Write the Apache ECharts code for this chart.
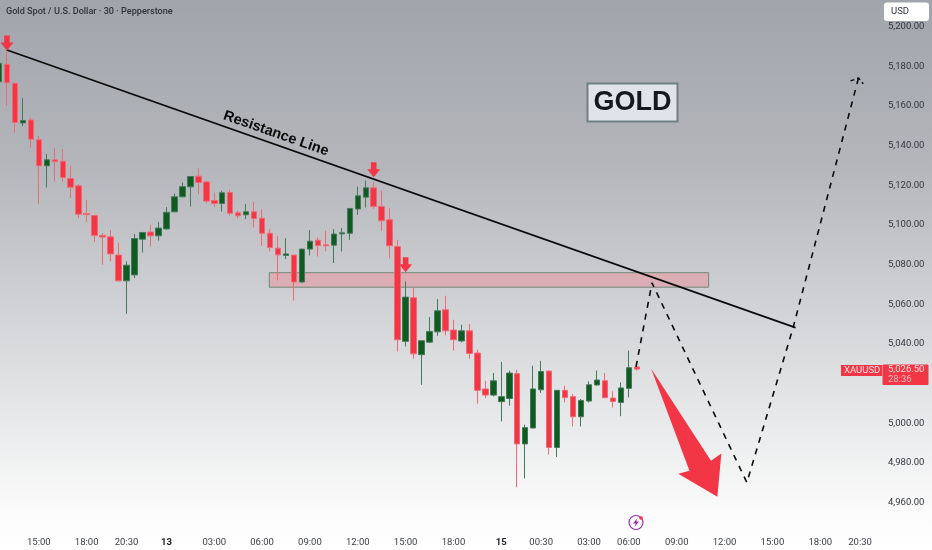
<!DOCTYPE html>
<html>
<head>
<meta charset="utf-8">
<style>html,body{margin:0;padding:0;background:#fff}#c{width:932px;height:550px}</style>
<script src="https://cdn.jsdelivr.net/npm/echarts@6/dist/echarts.min.js"></script>
</head>
<body>
<div id="c"></div>
<script>
// Bars start one slot before the first fully visible candle
const opens = [5171.4,5180.2,5170.6,5150.6,5152.1,5142.1,5129,5132,5131.3,5122.6,5118.9,5104.9,5103.9,5093.9,5093.2,5084,5071,5074,5092,5095.6,5093.7,5097.2,5105.8,5113.4,5118.4,5123.8,5120.9,5111.5,5110,5115.5,5105.3,5104.3,5105.8,5102.6,5095,5087.5,5083.8,5084,5070.4,5087,5091.5,5089.2,5089,5094.7,5095,5107.2,5113.2,5117.9,5108.5,5101.8,5088.3,5040.5,5062.5,5033.8,5040.1,5045.3,5056.4,5046.2,5040.7,5045.8,5034.6,5016.5,5013.4,5010.1,5011.7,5024.2,4988.8,4996.8,5016.1,5025.5,4987,5015.8,5012.6,5002.5,5010.4,5018.5,5020.6,5011.9,5009.7,5016.8,5027.6];
const closes = [5180.7,5170.9,5150.8,5151.8,5142.4,5129,5132,5131.1,5123.1,5118.2,5104.6,5104.4,5093.9,5093.1,5084.6,5071,5078.9,5092.3,5095.4,5093.7,5097.6,5105.6,5113.4,5118.5,5123.6,5120.6,5111.2,5110,5115.4,5105.1,5103.8,5105.8,5102.4,5095,5087.8,5084.1,5084.6,5070.4,5087,5091,5088.8,5088.7,5094.6,5095.2,5107.5,5113.9,5117.9,5108.5,5101.3,5088.7,5041.3,5062.8,5034.2,5040.8,5045.5,5055.9,5045.8,5041.3,5045.8,5034.4,5015.8,5013.4,5020.6,5012.6,5024.5,4988.8,4997,5016.5,5025.3,4987,5015.8,5012.1,5002.5,5010.7,5018.6,5021,5012.1,5010.2,5017,5027.2,5026.5];
const lows = [5169.8,5159.2,5145.7,5149.1,5138.2,5109.7,5118,5121.1,5121.1,5112.7,5102.6,5100.6,5090.5,5079.1,5080.8,5070.7,5054.4,5072.4,5085.3,5088.3,5091.3,5096.7,5105.6,5113,5108.5,5114.7,5110.2,5108.2,5105.9,5103.9,5102.6,5102.1,5097.9,5088.7,5085.8,5071.2,5082,5061.1,5070.2,5083.8,5083.3,5085.8,5080,5085.8,5091.7,5104.3,5108,5107.3,5096.2,5082.3,5035.4,5037.9,5031.7,5018.6,5039.6,5043.3,5043.5,5035.8,5039.9,5031.7,5009.1,5011.9,5012.7,5000.1,5008.1,4966.9,4971.4,4996.6,5014.5,4983.4,4982.2,5009.7,4997.6,4997.6,5009.7,5018.1,5011.9,5007.2,5002.7,5012.2,5025.8];
const highs = [5182.4,5187.4,5170.8,5163.1,5153.2,5144.1,5135,5138,5137.5,5129.1,5119.8,5111.8,5104.3,5095.1,5096.7,5090.3,5080.8,5094.7,5095.6,5099.2,5100.6,5108.2,5114.9,5120.6,5123.9,5127.8,5121.4,5115.5,5116.5,5116.9,5106.4,5109.7,5110.7,5107.2,5097.2,5093.7,5092.5,5084,5087.2,5096.6,5093,5096.2,5097.1,5097.6,5107.5,5118.5,5121.6,5121.1,5116.5,5107.7,5091.7,5070.7,5067.4,5040.8,5052.7,5061.8,5063.5,5051.4,5048.9,5049.2,5036.3,5020.6,5024.5,5030.1,5025.7,5026.2,4998.5,5028.2,5030.7,5025.7,5015.8,5018.1,5013.9,5011.4,5020.3,5025.8,5024.5,5015.3,5019.8,5035.8,5028.7];

const slotCount = 112;
const firstBar = -1;
const tickBars = [4,10,15,20,26,32,38,44,50,56,62,67,73,78,84,90,96,102,107];
const tickLabels = ['15:00','18:00','20:30','13','03:00','06:00','09:00','12:00','15:00','18:00','15','00:30','03:00','06:00','09:00','12:00','15:00','18:00','20:30'];
const boldTicks = ['13','15'];
const priceMin = 4960, priceMax = 5200, priceStep = 20;
const hiddenPrice = 5020;

const trendBars = [0, 98.9];
const trendPrices = [5187.4, 5047.4];
const forecastBars = [78.9, 80.9, 92.8, 98.6, 106.8];
const forecastPrices = [5027.7, 5070, 4969.3, 5047.4, 5173.3];
const headBars = [105.8, 106.8, 107.4];
const headPrices = [5171.8, 5173.3, 5170.3];
const zoneBars = [32.9, 88];
const zonePrices = [5075.1, 5067.8];
const markerBars = [0, 46, 50];
const markerPrices = [5190.9, 5127, 5079.1];
const bigArrowBars = [80.8, 88.3, 89.6, 89.1, 84.2, 85.6];
const bigArrowPrices = [5026.7, 4980.3, 4983.9, 4962.2, 4973.8, 4975.3];

const RED = '#f23645', GREEN = '#0f5c20';
const RED_WICK = '#f36873', GREEN_WICK = '#44795a';
const FONT = 'Roboto, "Liberation Sans", sans-serif';

const categories = [];
for (let k = 0; k < slotCount; k++) {
  const bar = k + firstBar, t = tickBars.indexOf(bar);
  categories.push(t >= 0 ? tickLabels[t] : '');
}
const zip = (xs, ys) => xs.map((x, i) => [x, ys[i]]);
const candles = opens.map((o, i) => [o, closes[i], lows[i], highs[i]]);

const chart = echarts.init(document.getElementById('c'), null, {renderer:'canvas', width:932, height:550});
chart.setOption({
  animation:false,
  backgroundColor:{type:'linear',x:0,y:0,x2:0,y2:1,colorStops:[
    {offset:0,color:'#a1a4ab'},{offset:0.3,color:'#b4b6bb'},{offset:0.55,color:'#cfd1d4'},
    {offset:0.8,color:'#ecedee'},{offset:0.93,color:'#fbfbfb'},{offset:1,color:'#ffffff'}]},
  title:{text:'Gold Spot / U.S. Dollar · 30 · Pepperstone',left:1,top:2,
    textStyle:{color:'#2f3238',fontSize:9.1,fontWeight:500,fontFamily:FONT}},
  grid:{left:-5,right:44,top:25,bottom:49,outerBoundsMode:'none'},
  xAxis:[
    {type:'category',data:categories,boundaryGap:true,
      axisLine:{show:false},axisTick:{show:false},splitLine:{show:false},
      axisLabel:{show:true,interval:0,margin:37,color:'#3a3d44',fontSize:9.5,fontFamily:FONT,
        hideOverlap:false,
        formatter:v=>boldTicks.includes(v)?'{b|'+v+'}':v,
        rich:{b:{fontWeight:'bold',fontSize:9.5,color:'#1c1e22',fontFamily:FONT}}}},
    {type:'value',show:false,min:firstBar-0.5,max:firstBar+slotCount-0.5,splitLine:{show:false}}
  ],
  yAxis:{type:'value',position:'right',min:priceMin,max:priceMax,interval:priceStep,
    axisLine:{show:false},axisTick:{show:false},splitLine:{show:false},
    axisLabel:{margin:0,color:'#33363d',fontSize:9.5,fontFamily:FONT,
      showMinLabel:true,showMaxLabel:true,
      rich:{p:{padding:[3,0,0,0],color:'#33363d',fontSize:9.5,fontFamily:FONT}},
      formatter:v=>v===hiddenPrice?'':'{p|'+v.toLocaleString('en-US',{minimumFractionDigits:2,maximumFractionDigits:2})+'}'}},
  series:[
    {type:'line',xAxisIndex:1,data:[],z:1,symbol:'none',silent:true,
      markArea:{silent:true,itemStyle:{color:'rgba(232,150,156,0.55)',borderColor:'#728679',borderWidth:1},
        data:[[{coord:[zoneBars[0],zonePrices[0]]},{coord:[zoneBars[1],zonePrices[1]]}]]}},
    {type:'candlestick',data:candles,barWidth:6,z:2,
      itemStyle:{color:GREEN,color0:RED,borderColor:GREEN_WICK,borderColor0:RED_WICK,borderWidth:1}},
    {type:'line',xAxisIndex:1,data:zip(trendBars,trendPrices),symbol:'none',z:4,
      lineStyle:{color:'#0a0a0a',width:1.7}},
    {type:'line',xAxisIndex:1,data:zip(forecastBars,forecastPrices),symbol:'none',z:4,
      lineStyle:{color:'#0a0a0a',width:1.6,type:[6,6]}},
    {type:'line',xAxisIndex:1,data:zip(headBars,headPrices),symbol:'none',z:4,
      lineStyle:{color:'#0a0a0a',width:1.4,type:[4,3]}},
    {type:'scatter',xAxisIndex:1,data:zip(markerBars,markerPrices),z:5,
      symbol:'path://M4 0H10V7H14L7 15L0 7H4Z',symbolSize:[13,15],itemStyle:{color:RED,opacity:1}},
    {type:'custom',xAxisIndex:1,z:5,data:zip(bigArrowBars,bigArrowPrices),
      renderItem:(params,api)=>{
        if(params.dataIndex!==0) return null;
        return {type:'polygon',shape:{points:bigArrowBars.map((b,i)=>api.coord([b,bigArrowPrices[i]]))},
          style:{fill:RED}};
      }}
  ],
  graphic:[
    {type:'group',z:20,children:[
      {type:'rect',shape:{x:587.5,y:83.5,width:90,height:38},style:{fill:'#e0e3e9',stroke:'#6f8085',lineWidth:2}},
      {type:'text',style:{x:632.5,y:102.5,text:'GOLD',align:'center',verticalAlign:'middle',
        fill:'#14181f',font:'bold 27px "Liberation Sans", Arial, sans-serif'}},
      {type:'text',rotation:-0.339,x:276,y:133.5,style:{text:'Resistance Line',align:'center',verticalAlign:'middle',
        fill:'#0a0a0a',font:'bold 14.5px "Liberation Sans", Arial, sans-serif'}},
      {type:'rect',shape:{x:884,y:2.5,width:45,height:18.5,r:3},style:{fill:'#ffffff'}},
      {type:'text',style:{x:891,y:11.5,text:'USD',verticalAlign:'middle',fill:'#2f3238',font:'9.5px '+FONT}},
      {type:'rect',shape:{x:841,y:365,width:41,height:11},style:{fill:RED}},
      {type:'text',style:{x:844,y:370.5,text:'XAUUSD',verticalAlign:'middle',fill:'#fbe3e5',font:'9.5px '+FONT}},
      {type:'rect',shape:{x:882.5,y:364.5,width:46,height:20.5,r:1},style:{fill:RED}},
      {type:'text',style:{x:888,y:370,text:'5,026.50',verticalAlign:'middle',fill:'#fcdfe2',font:'9.5px '+FONT}},
      {type:'text',style:{x:888,y:379.5,text:'28:36',verticalAlign:'middle',fill:'#f9b8be',font:'9.5px '+FONT}},
      {type:'circle',shape:{cx:636,cy:522.5,r:7},style:{fill:'none',stroke:'#9c27b0',lineWidth:1.1}},
      {type:'polygon',shape:{points:[[637.5,518],[633,523.5],[635.8,523.5],[634.5,527],[639,521.5],[636.2,521.5]]},style:{fill:'#9c27b0'}},
      {type:'circle',shape:{cx:641,cy:518,r:1.8},style:{fill:'#f23645'}}
    ]}
  ]
});
</script>
</body>
</html>
